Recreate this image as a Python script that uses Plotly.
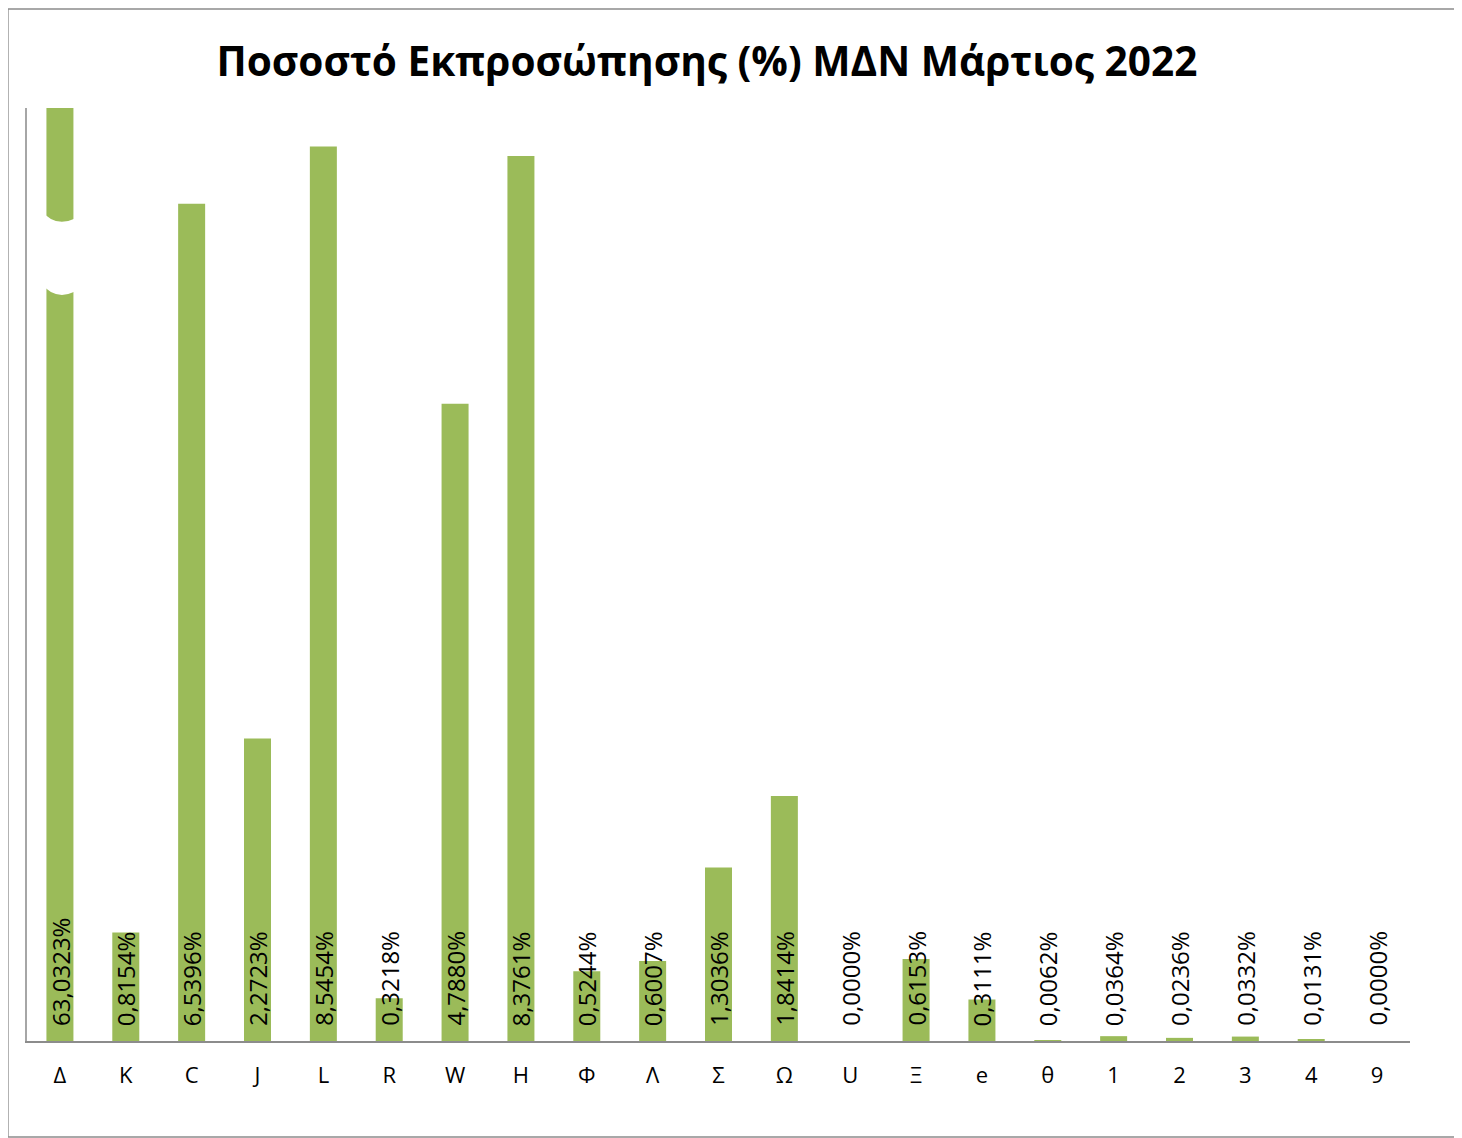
import plotly.graph_objects as go

# Categories (party codes) as shown on the x axis
categories = ["Δ", "K", "C", "J", "L", "R", "W", "H", "Φ", "Λ", "Σ", "Ω",
              "U", "Ξ", "e", "θ", "1", "2", "3", "4", "9"]

# Percentages printed on the bars
values = [63.0323, 0.8154, 6.5396, 2.2723, 8.5454, 0.3218, 4.7880, 8.3761,
          0.5244, 0.6007, 1.3036, 1.8414, 0.0000, 0.6153, 0.3111, 0.0062,
          0.0364, 0.0236, 0.0332, 0.0131, 0.0000]

# Bar lengths as drawn in the (broken-axis) picture
bar_heights = [7.40, 0.8154, 6.29, 2.2723, 6.72, 0.3218, 4.7880, 6.65,
               0.5244, 0.6007, 1.3036, 1.8414, 0.0000, 0.6153, 0.3111, 0.0062,
               0.0364, 0.0236, 0.0332, 0.0131, 0.0000]

title_text = "Ποσοστό Εκπροσώπησης (%) ΜΔΝ Μάρτιος 2022"

def fmt(v):
    return f"{v:.4f}".replace(".", ",") + "%"

label_font = "Open Sans"

fig = go.Figure()
fig.add_trace(go.Bar(
    x=categories, y=bar_heights,
    marker=dict(color="#9BBB59", line=dict(width=0)),
    hoverinfo="skip",
))

annotations = []
for i, v in enumerate(values):
    annotations.append(dict(
        x=i, y=0, xref="x", yref="y", text=fmt(v), showarrow=False,
        textangle=-90, xanchor="center", yanchor="bottom", yshift=13,
        font=dict(family=label_font, size=24, color="#000000"),
    ))

shapes = [
    # broken-axis mark on the first bar
    dict(type="path", xref="x", yref="y", layer="above",
         path="M -0.3,6.25 Q 0,6.06 0.42,6.25 L 0.42,5.70 Q 0,5.51 -0.3,5.70 Z",
         fillcolor="white", line=dict(width=0)),
    # outer chart border
    dict(type="rect", xref="paper", yref="paper",
         x0=-0.0138, x1=1.0333, y0=-0.1029, y1=1.1060,
         line=dict(color="#8c8c8c", width=1.5), fillcolor="rgba(0,0,0,0)"),
]

fig.update_layout(
    width=1454, height=1130,
    margin=dict(l=19, r=52, t=100, b=97),
    paper_bgcolor="white", plot_bgcolor="white",
    title=dict(text="<b>" + title_text + "</b>", x=0.4807, xanchor="center",
               y=0.952, yanchor="middle",
               font=dict(family=label_font, size=40.6, color="#000000")),
    bargap=0.59,
    showlegend=False,
    annotations=annotations,
    shapes=shapes,
    xaxis=dict(type="category", showline=True, linecolor="#8c8c8c", linewidth=2,
               ticks="", showgrid=False, ticklabelstandoff=14,
               tickfont=dict(family=label_font, size=22, color="#000000")),
    yaxis=dict(range=[0, 7.01], showline=True, linecolor="#a6a6a6", linewidth=2,
               showticklabels=False, ticks="", showgrid=False, zeroline=False),
)

fig.write_html("out.html")
